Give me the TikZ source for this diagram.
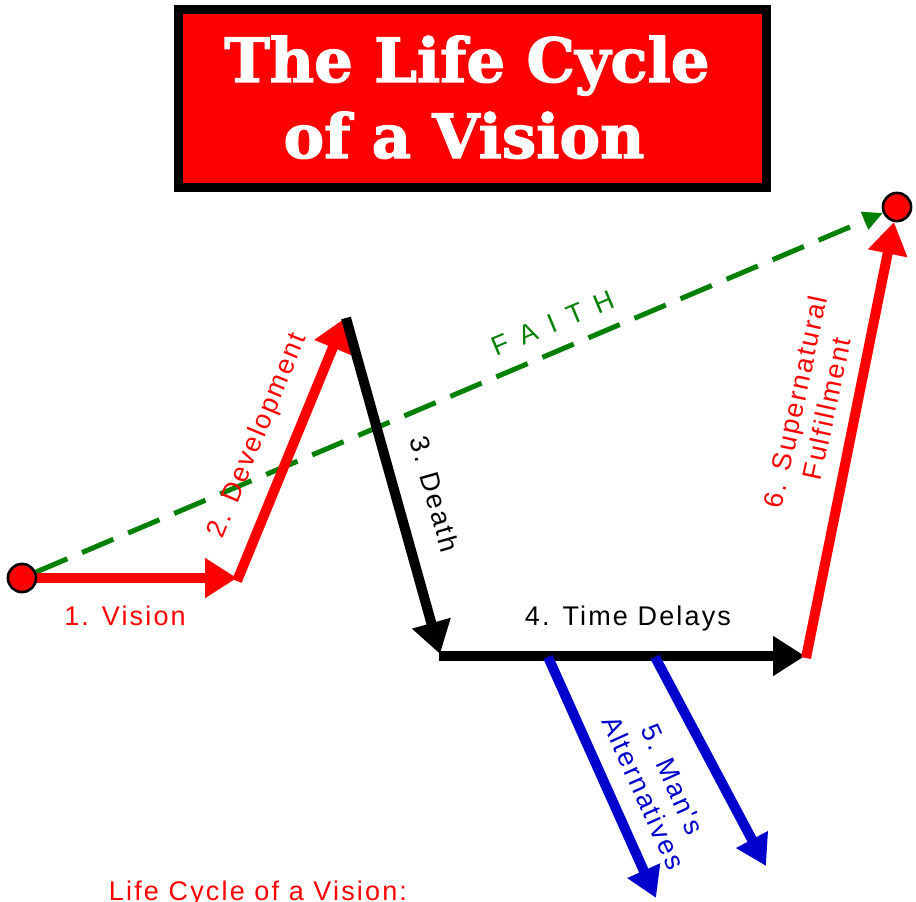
\documentclass[tikz,border=0pt]{standalone}
\usepackage{fontspec}
\setmainfont{Liberation Sans}
\newfontfamily\lbl{Liberation Sans}[LetterSpace=8]
\newfontfamily\ttl{DejaVu Serif}[FakeBold=2]
\usetikzlibrary{arrows.meta}
\definecolor{fgreen}{RGB}{0,128,0}
\definecolor{fblue}{RGB}{0,0,204}
\definecolor{fred}{RGB}{255,0,0}
\begin{document}
\begin{tikzpicture}[x=1pt,y=-1pt,
  lblfont/.style={font=\lbl\fontsize{27}{32}\selectfont, inner sep=0pt},
  bigtip/.style={-{Triangle[length=32pt,width=38pt]}},
  redarrow/.style={line width=10pt, draw=fred, bigtip},
  blackarrow/.style={line width=10pt, draw=black, bigtip},
  bluearrow/.style={line width=10pt, draw=fblue, -{Triangle[length=30pt,width=34pt]}},
  faitharrow/.style={line width=5pt, draw=fgreen, dash pattern=on 34pt off 16pt, -{Triangle[length=20pt,width=18pt]}},
  dot/.style={circle, fill=fred, draw=black, line width=2.5pt, minimum size=28pt, inner sep=0pt},
  titlebox/.style={draw=black, fill=fred, line width=9pt, minimum width=588pt, minimum height=178pt, inner sep=0pt},
  titletext/.style={font=\ttl\bfseries\fontsize{61}{70}\selectfont, text=white, inner sep=0pt}
]
\useasboundingbox (0,0) rectangle (916,902);

% title
\node[titlebox] (tbox) at (472.5,98.5) {};
\node[titletext, anchor=base] (t1) at (467,82) {The Life Cycle};
\node[titletext, anchor=base] (t2) at (464,158) {of a Vision};

% points
\node[dot] (start) at (22,578) {};
\node[dot] (end) at (897,207) {};
\coordinate (p1) at (237,578);
\coordinate (p1b) at (237,581);
\coordinate (p2) at (345,318);
\coordinate (p2b) at (346,318);
\coordinate (p3) at (440,654);
\coordinate (p3b) at (439,656);
\coordinate (p4) at (805,656);
\coordinate (p4b) at (806,658);
\coordinate (b1s) at (548,657);
\coordinate (b1e) at (656,898);
\coordinate (b2s) at (655,657);
\coordinate (b2e) at (766,866);

% faith
\draw[faitharrow] (start) -- (end);

% path
\draw[redarrow] (start) -- (p1);
\draw[redarrow] (p1b) -- (p2);
\draw[blackarrow] (p2b) -- (p3);
\draw[blackarrow] (p3b) -- (p4);
\draw[redarrow] (p4b) -- (end);
\draw[bluearrow] (b1s) -- (b1e);
\draw[bluearrow] (b2s) -- (b2e);

\node[dot] at (start) {};
\node[dot] at (end) {};

% labels
\node[lblfont, text=fred, anchor=base] (l1) at (125,625) {1. Vision};
\node[lblfont, text=fred, rotate=67.6] (l2) at (258,436) {2. Development};
\node[lblfont, text=black, rotate=-74] (l3) at (435,494) {3. Death};
\node[lblfont, text=black, anchor=base] (l4) at (628,625) {4. Time Delays};
\node[lblfont, text=fblue, rotate=-65.8, align=center] (l5) at (658,786) {5. Man's\\Alternatives};
\node[lblfont, text=fred, rotate=77.8, align=center] (l6) at (811,405) {6. Supernatural\\Fulfillment};
\node[lblfont, text=fgreen, rotate=22.7] (lf) at (553,323) {F\hspace{13pt}A\hspace{13pt}I\hspace{13pt}T\hspace{13pt}H};
\node[lblfont, text=fred, anchor=base] (lb) at (258,900) {Life Cycle of a Vision:};
\end{tikzpicture}
\end{document}
